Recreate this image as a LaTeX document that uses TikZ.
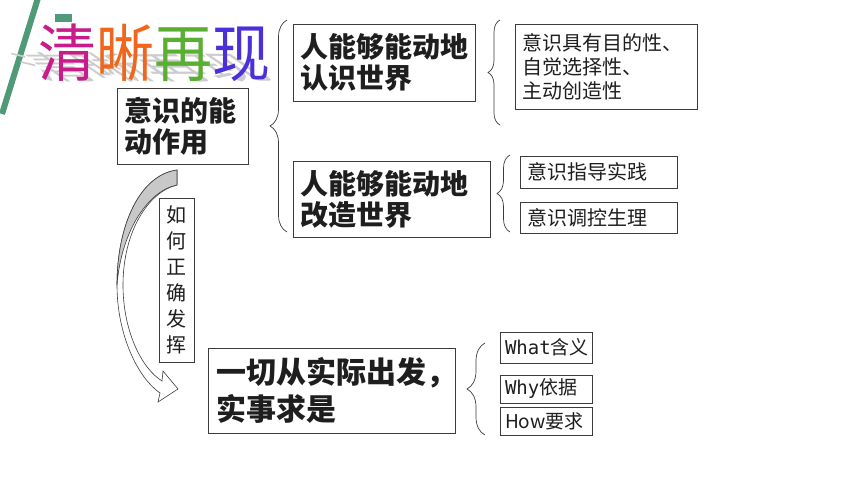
\documentclass[tikz,border=0pt]{standalone}
\usepackage{fontspec}
\setmainfont{Noto Sans CJK SC}
\newfontfamily\monofont{DejaVu Sans Mono}
\usetikzlibrary{decorations.pathreplacing}

\begin{document}
\begin{tikzpicture}[x=1pt, y=-1pt,
    box/.style={draw=borderColour, line width=0.8pt, fill=white, text=textColour,
        align=left, inner xsep=7pt, inner ysep=0pt, anchor=center},
    bigbox/.style={box, font=\bfseries\fontsize{28}{31}\selectfont},
    smallbox/.style={box, font=\fontsize{20}{24}\selectfont},
    curly/.style={draw=borderColour, line width=0.7pt, decorate,
        decoration={brace, amplitude=#1}},
    curly/.default=12,
    arrowline/.style={draw=borderColour, line width=0.6pt}
]
    \definecolor{borderColour}{HTML}{3C3C3C}
    \definecolor{textColour}{HTML}{1E1E1E}
    \definecolor{barGreen}{HTML}{4F9A78}
    \definecolor{backGrey}{HTML}{C8C8C8}
    \definecolor{titleA}{HTML}{C81C8A}
    \definecolor{titleB}{HTML}{F0661C}
    \definecolor{titleC}{HTML}{5AAE32}
    \definecolor{titleD}{HTML}{4A30D8}

    \useasboundingbox (0,0) rectangle (860,484);

    % Green bars top left
    \draw[barGreen, line width=6pt] (38,-2) -- (2,114);
    \fill[barGreen] (55,14) rectangle (72,22);

    % Title with slanted shadow
    \begin{scope}[shift={(42,80)}, yscale=0.55, xslant=-0.8]
        \node[transform shape, anchor=base west, inner sep=0pt, text=gray!40,
            font=\fontsize{58}{58}\selectfont] (titleshadow) at (0,0) {清晰再现};
    \end{scope}
    \begin{scope}[shift={(38,77)}, yscale=1.08]
        \node[transform shape, anchor=base west, inner sep=0pt,
            font=\fontsize{58}{58}\selectfont] (title) at (0,0)
            {\color{titleA}清\color{titleB}晰\color{titleC}再\color{titleD}现};
    \end{scope}

    % Boxes
    \node[bigbox, text width=117pt, minimum height=76pt] (act) at (182.5,126) {意识的能\\动作用};
    \node[bigbox, text width=168pt, minimum height=77pt] (know) at (384,62.5) {人能够能动地\\认识世界};
    \node[bigbox, text width=183pt, minimum height=76pt] (change) at (391.5,199) {人能够能动地\\改造世界};
    \node[smallbox, text width=168pt, minimum height=85pt] (feat) at (606,66.5) {意识具有目的性、\\自觉选择性、\\主动创造性};
    \node[smallbox, text width=143pt, minimum height=32pt] (guide) at (598.5,172) {意识指导实践};
    \node[smallbox, text width=143pt, minimum height=31pt] (ctrl) at (598.5,217.5) {意识调控生理};
    \node[box, align=center, inner xsep=0pt, minimum width=35pt, minimum height=164pt,
        font=\fontsize{20}{26}\selectfont] (howto) at (176.5,280) {如\\何\\正\\确\\发\\挥};
    \node[box, inner xsep=8pt, text width=231pt, minimum height=85pt,
        font=\bfseries\fontsize{30}{37}\selectfont] (fact) at (331.5,390.5) {一切从实际出发，\\实事求是};
    \node[smallbox, inner xsep=5pt, text width=82pt, minimum height=31pt,
        font=\fontsize{19}{22}\selectfont] (what) at (546,347.5) {{\monofont What}含义};
    \node[smallbox, inner xsep=5pt, text width=82pt, minimum height=28pt,
        font=\fontsize{19}{22}\selectfont] (why) at (546,389) {{\monofont Why}依据};
    \node[smallbox, inner xsep=5pt, text width=82pt, minimum height=28pt,
        font=\fontsize{19}{22}\selectfont] (how) at (546,421) {How要求};

    % Braces
    \coordinate (b1top) at (287,20);
    \coordinate (b1bot) at (287,232);
    \coordinate (b2top) at (500,20);
    \coordinate (b2bot) at (500,125);
    \coordinate (b3top) at (510,155);
    \coordinate (b3bot) at (510,232);
    \coordinate (b4top) at (485,343);
    \coordinate (b4bot) at (485,435);
    \draw[curly=17] (b1bot) -- (b1top);
    \draw[curly=12] (b2bot) -- (b2top);
    \draw[curly=13] (b3bot) -- (b3top);
    \draw[curly=18] (b4bot) -- (b4top);

    % Curved arrow from act down to fact
    \draw[arrowline, fill=white] (177,170) .. controls (140,175) and (117,225) .. (117,285)
        .. controls (117,335) and (138,378) .. (160,393) -- (158,402) -- (178,389)
        -- (163,371) -- (162,381) .. controls (141,368) and (123,330) .. (123,285)
        .. controls (123,232) and (148,192) .. (177,185) -- cycle;
    \draw[arrowline, fill=backGrey] (177,170) .. controls (140,175) and (117,225) .. (117,285)
        .. controls (121,233) and (147,191) .. (177,185) -- cycle;

\end{tikzpicture}
\end{document}
